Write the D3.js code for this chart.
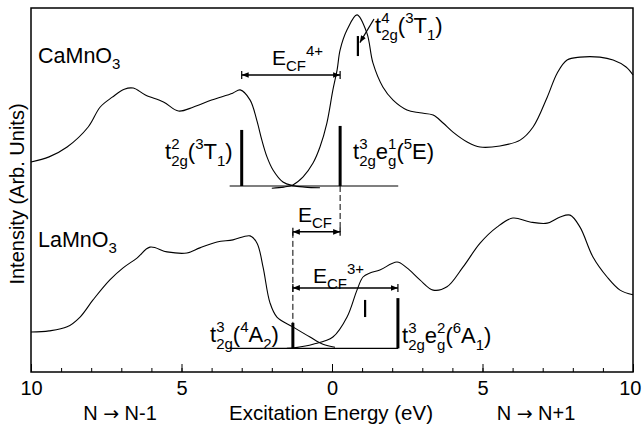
<!DOCTYPE html>
<html>
<head>
<meta charset="utf-8">
<script src="https://cdn.jsdelivr.net/npm/d3@7"></script>
<style>
  body { margin: 0; background: #fff; }
  text { font-family: "Liberation Sans", Arial, sans-serif; fill: #000; }
</style>
</head>
<body>
<div id="chart"></div>
<script>
// spectra, [energy (eV, negative = N -> N-1 side), intensity (arb.)]
var caOccupied = [[-10,57.7],[-9.4,59.1],[-8.8,61.8],[-8.1,67.3],[-7.7,72.8],[-7.3,75.5],[-6.9,77.7],[-6.6,78.0],
  [-6.2,76.1],[-5.6,74.2],[-5.1,71.7],[-4.6,72.8],[-4.0,74.7],[-3.3,76.6],[-3.05,77.5],[-2.72,74.7],[-2.5,69.2],
  [-2.33,63.7],[-2.16,59.1],[-1.96,55.5],[-1.63,52.2],[-1.3,51.2],[-0.9,50.8],[-0.4,50.6]];
var caEmpty = [[-2.0,50.5],[-1.6,50.8],[-1.3,51.4],[-0.96,53.6],[-0.63,57.4],[-0.4,61.8],[-0.17,68.4],[0.03,77.5],
  [0.17,83.0],[0.27,88.5],[0.5,94.0],[0.83,98.1],[1.16,93.1],[1.36,84.9],[1.69,78.3],[2.03,74.7],[2.49,72.0],
  [2.92,71.2],[3.36,70.6],[3.69,68.4],[4.02,65.9],[4.49,63.2],[4.92,61.8],[5.58,62.1],[6.25,63.7],[6.68,67.3],
  [7.15,75.5],[7.48,82.1],[7.81,85.7],[8.24,86.5],[8.9,86.5],[9.34,85.7],[9.77,83.8],[10,81.6]];
var laOccupied = [[-10,11.0],[-9.4,11.3],[-8.8,12.4],[-8.37,15.1],[-7.94,19.8],[-7.38,25.3],[-6.94,28.6],[-6.48,31.3],
  [-6.05,34.3],[-5.48,33.0],[-4.82,32.7],[-4.39,34.1],[-3.82,35.7],[-3.29,36.3],[-2.72,37.4],[-2.49,35.4],
  [-2.29,28.8],[-2.06,19.0],[-1.83,15.1],[-1.3,12.4],[-0.73,9.6],[-0.3,7.6],[0.1,6.8]];
var laEmpty = [[-1.5,6.5],[-1.2,6.7],[-0.63,7.6],[0.03,9.6],[0.5,15.1],[0.83,22.5],[1.03,26.1],[1.26,27.2],[1.59,28.0],
  [2.16,30.2],[2.49,28.6],[2.92,25.3],[3.36,22.5],[3.82,23.4],[4.35,28.8],[4.92,35.4],[5.48,39.8],[6.01,42.3],
  [6.58,41.2],[7.15,40.9],[7.58,42.6],[7.91,43.1],[8.24,39.8],[8.67,31.6],[9.14,26.1],[9.57,22.5],[10,21.2]];

// baselines of the multiplet sticks: [from eV, to eV, level]
var caBaseline = [-3.4, 2.2, 51.1];
var laBaseline = [-3.4, 2.2, 6.5];

// sticks: [energy, bottom, top, thick]
var caSticks = [[-3.0,51.1,66.5,1],[0.27,51.1,67.6,1],[0.86,86.8,92.3,0]];
var laSticks = [[-1.3,6.5,13.5,1],[2.19,6.5,20.3,1],[1.1,15.1,19.8,0]];

// crystal-field splittings: [from eV, to eV, level]
var brackets = [[-3.0,0.27,81.6],[-1.3,0.27,38.5],[-1.3,2.19,23.1]];
var dashes = [[0.27,51.1,38.5],[-1.3,38.5,13.5]];

var majorTicks = [-10,-5,0,5,10];
var minorTicks = d3.range(-10, 11, 1);

var width = 642, height = 430;
var margin = {top: 8, right: 9, bottom: 58, left: 31};

var svg = d3.select("#chart").append("svg")
  .attr("width", width)
  .attr("height", height);

var x = d3.scaleLinear().domain([-10, 10]).range([margin.left, width - margin.right]);
var y = d3.scaleLinear().domain([0, 100]).range([height - margin.bottom, margin.top]);

var defs = svg.append("defs");
defs.append("marker")
  .attr("id", "arr")
  .attr("viewBox", "0 0 10 10")
  .attr("refX", 10).attr("refY", 5)
  .attr("markerWidth", 7).attr("markerHeight", 7)
  .attr("markerUnits", "userSpaceOnUse")
  .attr("orient", "auto-start-reverse")
  .append("path").attr("d", "M0,1L10,5L0,9Z").attr("fill", "#000");

// frame
svg.append("rect")
  .attr("x", x(-10)).attr("y", y(100))
  .attr("width", x(10) - x(-10)).attr("height", y(0) - y(100))
  .attr("fill", "none").attr("stroke", "#000").attr("stroke-width", 1.5);

// axes
var bottomY = y(0);
svg.append("g")
  .attr("transform", `translate(0, ${bottomY})`)
  .call(d3.axisBottom(x).tickValues(minorTicks).tickSize(-4).tickFormat(""))
  .call(g => g.select(".domain").remove());
svg.append("g")
  .attr("transform", `translate(0, ${bottomY})`)
  .call(d3.axisBottom(x).tickValues(majorTicks).tickSize(-8).tickPadding(9).tickFormat(d => Math.abs(d)))
  .call(g => g.select(".domain").remove())
  .call(g => g.selectAll("text").attr("font-size", 20).attr("font-family", "Liberation Sans, Arial, sans-serif"))
  .call(g => g.selectAll(".tick").filter(d => d === 10).select("text")
    .attr("text-anchor", "end").attr("x", width - 1 - x(10)));

// spectra
var line = d3.line()
  .x(d => x(d[0]))
  .y(d => y(d[1]))
  .curve(d3.curveCatmullRom.alpha(0.5));

[caOccupied, caEmpty, laOccupied, laEmpty].forEach(function(s) {
  svg.append("path")
    .datum(s)
    .attr("d", line)
    .attr("fill", "none")
    .attr("stroke", "#000")
    .attr("stroke-width", 1.1);
});

[caBaseline, laBaseline].forEach(function(b) {
  svg.append("line")
    .attr("x1", x(b[0])).attr("x2", x(b[1]))
    .attr("y1", y(b[2])).attr("y2", y(b[2]))
    .attr("stroke", "#000").attr("stroke-width", 1.1);
});

caSticks.concat(laSticks).forEach(function(s) {
  svg.append("line")
    .attr("x1", x(s[0])).attr("x2", x(s[0]))
    .attr("y1", y(s[1])).attr("y2", y(s[2]))
    .attr("stroke", "#000").attr("stroke-width", s[3] ? 3 : 2.2);
});

brackets.forEach(function(b) {
  svg.append("line")
    .attr("x1", x(b[0])).attr("x2", x(b[1]))
    .attr("y1", y(b[2])).attr("y2", y(b[2]))
    .attr("stroke", "#000").attr("stroke-width", 1.5)
    .attr("marker-start", "url(#arr)")
    .attr("marker-end", "url(#arr)");
  [b[0], b[1]].forEach(function(e) {
    svg.append("line")
      .attr("x1", x(e)).attr("x2", x(e))
      .attr("y1", y(b[2]) - 4).attr("y2", y(b[2]) + 4)
      .attr("stroke", "#000").attr("stroke-width", 1.2);
  });
});

dashes.forEach(function(d) {
  svg.append("line")
    .attr("x1", x(d[0])).attr("x2", x(d[0]))
    .attr("y1", y(d[1])).attr("y2", y(d[2]))
    .attr("stroke", "#000").attr("stroke-width", 1)
    .attr("stroke-dasharray", "6,3");
});

// pointer from t2g4 label to its stick
svg.append("line")
  .attr("x1", 374).attr("y1", 19)
  .attr("x2", x(0.86) + 2).attr("y2", y(90.5))
  .attr("stroke", "#000").attr("stroke-width", 1.2)
  .attr("marker-end", "url(#arr)");

// text with stacked sub/superscripts
function richText(px, py, parts, size) {
  var small = Math.round(size * 0.7);
  var g = svg.append("g");
  var cx = 0;
  parts.forEach(function(p) {
    if (p.t) {
      var t = g.append("text").attr("x", cx).attr("y", 0).attr("font-size", size).text(p.t);
      cx += t.node().getComputedTextLength();
    } else {
      var w = 0;
      if (p.sub) {
        var s = g.append("text").attr("x", cx).attr("y", size * 0.3).attr("font-size", small).text(p.sub);
        w = Math.max(w, s.node().getComputedTextLength());
      }
      if (p.sup) {
        var u = g.append("text").attr("x", cx).attr("y", -size * 0.45).attr("font-size", small).text(p.sup);
        w = Math.max(w, u.node().getComputedTextLength());
      }
      cx += w;
    }
  });
  g.attr("transform", `translate(${px}, ${py})`);
}

richText(38, 63, [{t: "CaMnO"}, {sub: "3"}], 21.5);
richText(38, 247, [{t: "LaMnO"}, {sub: "3"}], 21.5);
richText(272, 65, [{t: "E"}, {sub: "CF"}, {sup: "4+"}], 21);
richText(298, 222, [{t: "E"}, {sub: "CF"}], 21);
richText(313, 283, [{t: "E"}, {sub: "CF"}, {sup: "3+"}], 21);
richText(375, 33, [{t: "t"}, {sub: "2g", sup: "4"}, {t: "("}, {sup: "3"}, {t: "T"}, {sub: "1"}, {t: ")"}], 22);
richText(165, 159, [{t: "t"}, {sub: "2g", sup: "2"}, {t: "("}, {sup: "3"}, {t: "T"}, {sub: "1"}, {t: ")"}], 22);
richText(353, 159, [{t: "t"}, {sub: "2g", sup: "3"}, {t: "e"}, {sub: "g", sup: "1"}, {t: "("}, {sup: "5"}, {t: "E)"}], 22);
richText(210, 342, [{t: "t"}, {sub: "2g", sup: "3"}, {t: "("}, {sup: "4"}, {t: "A"}, {sub: "2"}, {t: ")"}], 22);
richText(402, 343, [{t: "t"}, {sub: "2g", sup: "3"}, {t: "e"}, {sub: "g", sup: "2"}, {t: "("}, {sup: "6"}, {t: "A"}, {sub: "1"}, {t: ")"}], 22);

// axis titles
svg.append("text")
  .attr("transform", `translate(24, ${(y(0) + y(100)) / 2 + 4}) rotate(-90)`)
  .attr("text-anchor", "middle")
  .attr("font-size", 20)
  .text("Intensity (Arb. Units)");

function arrowTitle(cx, label, rest) {
  var t = svg.append("text").attr("x", cx).attr("y", 420).attr("text-anchor", "middle").attr("font-size", 20);
  t.append("tspan").text(label + " ");
  t.append("tspan").attr("font-family", "DejaVu Sans").attr("font-size", 19).text("\u2192");
  t.append("tspan").text(" " + rest);
}
arrowTitle(120, "N", "N-1");
svg.append("text").attr("x", 331).attr("y", 420).attr("text-anchor", "middle").attr("font-size", 20.5).text("Excitation Energy (eV)");
arrowTitle(536, "N", "N+1");
</script>
</body>
</html>
